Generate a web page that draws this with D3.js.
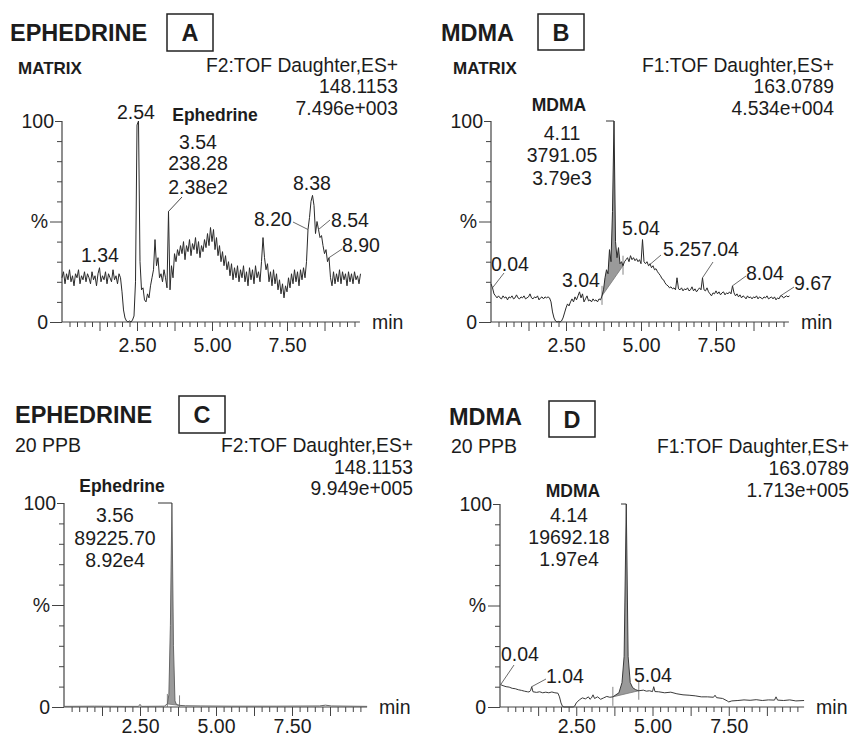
<!DOCTYPE html>
<html>
<head>
<meta charset="utf-8">
<script src="https://cdn.jsdelivr.net/npm/d3@7"></script>
<style>
body { margin: 0; background: #fff; }
svg text { font-family: "Liberation Sans", Arial, sans-serif; fill: #1c1c1c; }
.tick text { font-size: 19.5px; }
</style>
</head>
<body>
<div id="chart"></div>
<script>
const W = 852, H = 738;

// scan grid of the matrix runs (min)
const scanStart = 0, scanStep = 0.05;

// A: ephedrine in matrix, % of 7.496e+003
const ephedrineMatrix = [
  22,25,19,24,21,26,20,23,18,24,22,26,19,23,21,25,20,24,22,19,
  25,21,23,18,24,27,20,23,21,25,19,24,22,20,26,21,23,19,24,22,
  15,6,2,0.5,0,0.5,0,1,3,20,98,100,30,16,17,11,10,14,12,18,
  22,26,41,28,32,22,24,20,26,22,17,55,16,28,22,34,30,36,33,38,
  34,40,31,38,35,41,33,39,36,42,34,40,32,38,35,41,37,44,38,47,
  40,46,36,42,33,38,30,35,28,33,26,30,23,29,21,27,22,28,20,26,
  22,28,20,25,18,27,21,26,19,28,22,25,20,30,42,32,26,29,20,25,
  18,26,19,24,16,21,14,19,12,18,15,22,17,24,19,26,20,25,18,26,
  21,27,22,30,46,52,60,63,58,44,50,46,42,43,38,34,36,30,32,22,
  18,25,19,24,20,26,19,25,21,24,18,25,20,24,19,25,21,23,19,24
];

// B: MDMA in matrix, % of 4.534e+004
const mdmaMatrix = [
  19,17,14,13,12,13,12,11.5,13,12,12.5,11,12.5,12,13,11.5,12,13.5,12,11.5,
  12.5,12,13,11.5,12,12.5,14,12,11.5,12.5,12,13,11,12,12.5,11.5,12.5,12,12.5,12,
  10,5,2,0.5,0,0.3,0,0.5,2,4.5,7,9,8,10,11.5,10,12.5,11,13,15,
  12,14,10,11.5,13,10.5,11,10,11.5,10.5,11,10,11.5,11,13,16,22,26,24,36,
  30,55,100,40,32,37,29,30,28,30,31,32,30,33,31,32,30.5,31.5,30,31,
  29,41,30,29,30,28,29,27,28,26,26.5,25,24,23,21.5,21,19.5,18.5,18,17,
  17.5,16.5,17,16,22,16.5,16,17,15.5,16.5,16,17,15.5,16,17.5,15.5,16.5,15,16,17,
  16,22,16,15.5,17,15,14,13,14.5,14,15.5,14,15,13.5,14.5,15,13.5,14.5,14,15,
  14,18,14.5,13,14,12.5,13.5,12,13,12.5,11.5,13,12,12.5,11.5,12.5,12,13,11.5,12.5,
  12,11.5,12.5,12,13,11.5,12,12.5,11.5,12.5,11,12,11.5,13,13,12,12.5,13,12.5,13
];

// C: ephedrine 20 ppb, [min, %] of 9.949e+005
const ephedrineStd = [
  [0,0.3],[1.0,0.4],[2.0,0.3],[2.45,0.3],[2.5,1.3],[2.55,0.3],[3.3,0.4],[3.4,1.5],
  [3.45,6],[3.5,40],[3.55,100],[3.6,30],[3.65,3],[3.7,1.2],[3.8,0.8],[4.0,0.6],
  [4.5,0.5],[5.5,0.4],[7.0,0.4],[8.4,0.5],[8.6,0.9],[8.8,0.5],[9.97,0.3]
];

// D: MDMA 20 ppb, [min, %] of 1.713e+005
const mdmaStd = [
  [0.02,11],[0.1,10.5],[0.2,10],[0.3,9.8],[0.4,9.2],[0.5,9],[0.6,8.5],[0.7,8.2],
  [0.8,7.8],[0.9,7.5],[0.95,7.4],[1.0,8],[1.04,10],[1.08,7.5],[1.2,7.2],[1.3,7.5],
  [1.4,7],[1.5,7.3],[1.6,7],[1.7,7.4],[1.8,7],[1.9,6.8],[1.95,5],[2.0,2],[2.05,0.3],
  [2.1,0],[2.4,0],[2.45,0.5],[2.5,2],[2.6,3.5],[2.7,4.5],[2.8,4],[2.9,5],[2.95,3.8],
  [3.0,4.5],[3.05,6],[3.1,4.2],[3.2,5],[3.3,3.8],[3.4,4.5],[3.5,5.2],[3.6,4.8],
  [3.7,5],[3.8,6],[3.9,7],[4.0,12],[4.07,25],[4.14,100],[4.2,25],[4.27,12],[4.35,9.5],
  [4.45,8.5],[4.55,8],[4.7,8.3],[4.8,7.8],[4.9,8],[5.0,7.6],[5.04,10],[5.08,7.6],
  [5.2,7.5],[5.4,7],[5.6,7.3],[5.8,6.5],[6.0,6],[6.2,5.8],[6.4,5.5],[6.6,5],[6.8,5],
  [7.0,4.8],[7.05,5.8],[7.1,4.6],[7.3,4.2],[7.45,3],[7.5,2.5],[7.6,3],[7.8,3.2],
  [8.0,3.5],[8.2,3.3],[8.4,3.6],[8.6,3.2],[8.8,3.5],[9.0,3.4],[9.05,5],[9.1,3.4],
  [9.3,3.2],[9.5,3.5],[9.7,3],[9.97,3.2]
];

const panelLetters = ["A", "B", "C", "D"];
const panelTitles = ["EPHEDRINE", "MDMA", "EPHEDRINE", "MDMA"];
const sampleLabels = ["MATRIX", "MATRIX", "20 PPB", "20 PPB"];
const functionLabels = ["F2:TOF Daughter,ES+", "F1:TOF Daughter,ES+", "F2:TOF Daughter,ES+", "F1:TOF Daughter,ES+"];
const massLabels = ["148.1153", "163.0789", "148.1153", "163.0789"];
const intensityLabels = ["7.496e+003", "4.534e+004", "9.949e+005", "1.713e+005"];
const compoundNames = ["Ephedrine", "MDMA", "Ephedrine", "MDMA"];
const peakRT = [3.55, 4.10, 3.55, 4.14];
const peakInfo = [
  ["3.54", "238.28", "2.38e2"],
  ["4.11", "3791.05", "3.79e3"],
  ["3.56", "89225.70", "8.92e4"],
  ["4.14", "19692.18", "1.97e4"]
];
// integration windows (min), null = none drawn
const integration = [null, [3.70, 4.40], [3.40, 3.80], [3.70, 4.55]];
// retention-time annotations [min, text]
const rtLabels = [
  [[1.34, "1.34"], [2.54, "2.54"], [8.20, "8.20"], [8.38, "8.38"], [8.55, "8.54"], [8.90, "8.90"]],
  [[0.05, "0.04"], [3.04, "3.04"], [5.04, "5.04"], [5.25, "5.257.04"], [8.05, "8.04"], [9.65, "9.67"]],
  [],
  [[0.02, "0.04"], [1.04, "1.04"], [5.04, "5.04"]]
];
const xTickLabels = { 2.5: "2.50", 5: "5.00", 7.5: "7.50" };
const yTickLabels = { 0: "0", 50: "%", 100: "100" };

function scans(values) {
  return values.map((v, i) => [+(scanStart + i * scanStep).toFixed(2), v]);
}

// layout only: where things sit on the page
const layout = [
  { x0: 62, ppm: 30, y0: 322, yTop: 121, tEnd: 9.93, pad: 7,
    title: [10, 41], box: [167, 14, 46, 37], sample: [18, 74, true], headX: 398, headY: [72, 93, 115],
    comp: [215, 121], info: [198, [149, 170, 194]], apexFrom: [182, 197, "diag"],
    notes: [[100, 262], [136, 119], [273, 226, [293, 222]], [312, 190], [350, 227, [330, 220]], [361, 252, [342, 249]]],
    color: "#2a2a2a" },
  { x0: 491, ppm: 30, y0: 322, yTop: 121, tEnd: 9.93, pad: 7,
    title: [441, 41], box: [538, 14, 46, 36], sample: [453, 74, true], headX: 834, headY: [72, 93, 115],
    comp: [559, 111], info: [562, [140, 162, 185]], apexFrom: [606],
    notes: [[510, 271, [504, 273]], [581, 287], [641, 235], [701, 256, [661, 255]], [765, 280, [746, 276]], [813, 290, [794, 287]]],
    extraLeads: [[713, 262, 7.05]],
    color: "#2a2a2a" },
  { x0: 64, ppm: 30.4, y0: 707, yTop: 503, tEnd: 9.97, pad: 3,
    title: [15, 423], box: [179, 396, 46, 37], sample: [15, 452, false], headX: 413, headY: [452, 474, 495],
    comp: [122, 492], info: [115, [522, 545, 567]], apexFrom: [158],
    notes: [], color: "#666" },
  { x0: 500, ppm: 30.5, y0: 707, yTop: 504, tEnd: 9.97, pad: 3,
    title: [449, 425], box: [549, 401, 46, 36], sample: [451, 453, false], headX: 849, headY: [453, 475, 497],
    comp: [573, 497], info: [569, [522, 544, 566]], apexFrom: [621],
    notes: [[520, 661, [514, 665]], [565, 683, [546, 679]], [653, 682]],
    color: "#3a3a3a" }
];

const traces = [scans(ephedrineMatrix), scans(mdmaMatrix), ephedrineStd, mdmaStd];

const svg = d3.select("#chart").append("svg")
  .attr("width", W)
  .attr("height", H);

function valueAt(trace, t) {
  let best = trace[0];
  trace.forEach(d => { if (Math.abs(d[0] - t) < Math.abs(best[0] - t)) best = d; });
  return best[1];
}

function drawPanel(i) {
  const p = layout[i];
  const trace = traces[i];
  const x = d3.scaleLinear().domain([0, 10]).range([p.x0, p.x0 + 10 * p.ppm]);
  const y = d3.scaleLinear().domain([0, 100]).range([p.y0, p.yTop]);
  const g = svg.append("g");

  // headings
  g.append("text").attr("x", p.title[0]).attr("y", p.title[1])
    .attr("font-size", 23.5).attr("font-weight", "bold").text(panelTitles[i]);
  g.append("rect").attr("x", p.box[0]).attr("y", p.box[1])
    .attr("width", p.box[2]).attr("height", p.box[3])
    .attr("fill", "none").attr("stroke", "#222").attr("stroke-width", 1.5);
  g.append("text").attr("x", p.box[0] + p.box[2] / 2).attr("y", p.box[1] + p.box[3] / 2 + 8.5)
    .attr("text-anchor", "middle").attr("font-size", 23.5).attr("font-weight", "bold")
    .text(panelLetters[i]);
  g.append("text").attr("x", p.sample[0]).attr("y", p.sample[1])
    .attr("font-size", p.sample[2] ? 17 : 19.5)
    .attr("font-weight", p.sample[2] ? "bold" : "normal")
    .text(sampleLabels[i]);
  [functionLabels[i], massLabels[i], intensityLabels[i]].forEach((s, k) => {
    g.append("text").attr("x", p.headX).attr("y", p.headY[k])
      .attr("text-anchor", "end").attr("font-size", 19.3).text(s);
  });

  // x axis
  const minor = d3.range(1, 40).map(k => k * 0.25).filter(t => t % 1.25 !== 0);
  const major = d3.range(1, 8).map(k => k * 1.25);
  g.append("g").attr("transform", `translate(0,${p.y0})`).attr("color", "#444")
    .call(d3.axisBottom(x).tickValues(minor).tickSize(5).tickFormat(""))
    .call(a => a.select(".domain").remove());
  g.append("g").attr("transform", `translate(0,${p.y0})`).attr("color", "#444")
    .call(d3.axisBottom(x).tickValues(major).tickSize(9).tickPadding(p.pad)
      .tickFormat(d => xTickLabels[d] || ""))
    .call(a => a.select(".domain").remove());
  g.append("line").attr("x1", x(0)).attr("x2", x(p.tEnd))
    .attr("y1", p.y0).attr("y2", p.y0).attr("stroke", "#444").attr("stroke-width", 1.2);
  g.append("text").attr("x", x(p.tEnd) + 12).attr("y", p.y0 + 7)
    .attr("font-size", 19.5).text("min");

  // y axis
  g.append("g").attr("transform", `translate(${x(0)},0)`).attr("color", "#444")
    .call(d3.axisLeft(y).tickValues(d3.range(10, 100, 10).filter(v => v !== 50)).tickSize(5).tickFormat(""))
    .call(a => a.select(".domain").remove());
  g.append("g").attr("transform", `translate(${x(0)},0)`).attr("color", "#444")
    .call(d3.axisLeft(y).tickValues([0, 50]).tickSize(12).tickPadding(2).tickFormat(d => yTickLabels[d]))
    .call(a => a.select(".domain").remove());
  g.append("g").attr("transform", `translate(${x(0)},0)`).attr("color", "#444")
    .call(d3.axisLeft(y).tickValues([100]).tickSize(7).tickPadding(1).tickFormat(d => yTickLabels[d]))
    .call(a => a.select(".domain").remove());
  g.append("line").attr("x1", x(0)).attr("x2", x(0))
    .attr("y1", p.y0).attr("y2", p.yTop).attr("stroke", "#444").attr("stroke-width", 1.2);

  // integrated peak
  const win = integration[i];
  if (win) {
    const va = valueAt(trace, win[0]), vb = valueAt(trace, win[1]);
    const base = t => va + (vb - va) * (t - win[0]) / (win[1] - win[0]);
    const inside = trace.filter(d => d[0] >= win[0] - 1e-6 && d[0] <= win[1] + 1e-6);
    g.append("path").datum(inside)
      .attr("d", d3.area().x(d => x(d[0])).y0(d => y(base(d[0]))).y1(d => y(d[1])))
      .attr("fill", "#9a9a9a");
    g.append("line").attr("x1", x(win[0])).attr("x2", x(win[1]))
      .attr("y1", y(va)).attr("y2", y(vb)).attr("stroke", "#777").attr("stroke-width", 0.8);
    [[win[0], va], [win[1], vb]].forEach(([t, v]) => {
      g.append("line").attr("x1", x(t)).attr("x2", x(t))
        .attr("y1", y(v) - 10).attr("y2", Math.min(y(v) + 9, p.y0))
        .attr("stroke", "#666").attr("stroke-width", 0.8);
    });
  }

  // trace
  g.append("path").datum(trace.filter(d => d[0] <= p.tEnd + 0.03))
    .attr("d", d3.line().x(d => x(d[0])).y(d => y(d[1])))
    .attr("fill", "none").attr("stroke", p.color).attr("stroke-width", 1)
    .attr("stroke-linejoin", "round");

  // peak annotation
  g.append("text").attr("x", p.comp[0]).attr("y", p.comp[1])
    .attr("text-anchor", "middle").attr("font-size", 17.5).attr("font-weight", "bold")
    .text(compoundNames[i]);
  peakInfo[i].forEach((s, k) => {
    g.append("text").attr("x", p.info[0]).attr("y", p.info[1][k])
      .attr("text-anchor", "middle").attr("font-size", 19.5).text(s);
  });
  const apexT = peakRT[i], apexV = valueAt(trace, apexT);
  if (p.apexFrom[2] === "diag") {
    g.append("line").attr("x1", p.apexFrom[0]).attr("y1", p.apexFrom[1])
      .attr("x2", x(apexT)).attr("y2", y(apexV)).attr("stroke", "#333").attr("stroke-width", 0.9);
  } else {
    g.append("line").attr("x1", p.apexFrom[0]).attr("y1", y(apexV))
      .attr("x2", x(apexT)).attr("y2", y(apexV)).attr("stroke", "#333").attr("stroke-width", 1);
  }

  // retention time labels
  rtLabels[i].forEach(([t, s], k) => {
    const pos = p.notes[k];
    g.append("text").attr("x", pos[0]).attr("y", pos[1])
      .attr("text-anchor", "middle").attr("font-size", 19.5).text(s);
    if (pos[2]) {
      g.append("line").attr("x1", pos[2][0]).attr("y1", pos[2][1])
        .attr("x2", x(t)).attr("y2", y(valueAt(trace, t)))
        .attr("stroke", "#444").attr("stroke-width", 0.8);
    }
  });
  (p.extraLeads || []).forEach(([lx, ly, t]) => {
    g.append("line").attr("x1", lx).attr("y1", ly)
      .attr("x2", x(t)).attr("y2", y(valueAt(trace, t)))
      .attr("stroke", "#444").attr("stroke-width", 0.8);
  });
}

[0, 1, 2, 3].forEach(drawPanel);
</script>
</body>
</html>
